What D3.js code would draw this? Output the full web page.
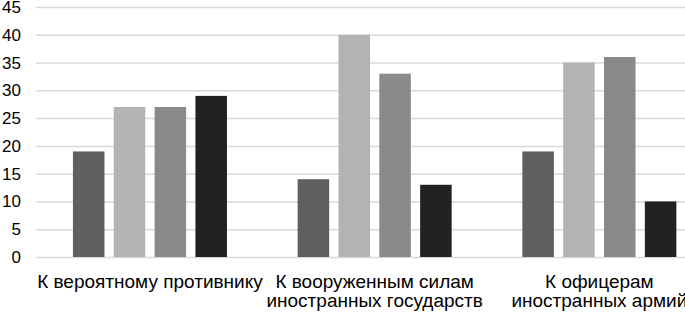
<!DOCTYPE html>
<html><head><meta charset="utf-8">
<script src="https://cdn.jsdelivr.net/npm/d3@7"></script>
<style>html,body{margin:0;padding:0;background:#fff;overflow:hidden}svg{display:block}</style>
</head><body>
<svg id="c" width="685" height="312"></svg>
<script>
const categories = ["К вероятному противнику", "К вооруженным силам иностранных государств", "К офицерам иностранных армий"];
const categoryLines = [["К вероятному противнику"], ["К вооруженным силам", "иностранных государств"], ["К офицерам", "иностранных армий"]];
const seriesNames = ["Серия 1", "Серия 2", "Серия 3", "Серия 4"];
const series1 = [19, 14, 19];
const series2 = [27, 40, 35];
const series3 = [27, 33, 36];
const series4 = [29, 13, 10];
const yTicks = [0, 5, 10, 15, 20, 25, 30, 35, 40, 45];
const colors = ["#5f5f5f", "#b3b3b3", "#8a8a8a", "#222222"];

const seriesValues = [series1, series2, series3, series4];
const svg = d3.select("#c");
const font = "'Liberation Sans', Arial, sans-serif";

const y = d3.scaleLinear().domain([0, 45]).range([257, 7]);
const x0 = d3.scaleBand().domain(categories).range([37.6, 711.7]).padding(0);
const groupW = 154;
const x1 = d3.scaleBand().domain(seriesNames).range([0, groupW]).paddingInner(0.228).paddingOuter(0);

// gridlines + y labels
const yAxis = d3.axisLeft(y).tickValues(yTicks).tickSize(-(700 - 36)).tickFormat(d3.format("d"));
const gy = svg.append("g").attr("transform", "translate(36,0)").call(yAxis);
gy.select(".domain").remove();
gy.selectAll(".tick line").attr("stroke", "#d9d9d9").attr("stroke-width", 1.5);
gy.selectAll(".tick text").attr("x", -15).attr("font-family", font).attr("font-size", 17).attr("fill", "#000");

// bars
const groups = svg.append("g").selectAll("g").data(categories).join("g")
  .attr("transform", d => `translate(${x0(d) + x0.bandwidth() / 2 - groupW / 2},0)`);
groups.selectAll("rect").data((d, i) => seriesNames.map((s, j) => ({ s, j, v: seriesValues[j][i] })))
  .join("rect")
  .attr("x", d => x1(d.s))
  .attr("width", x1.bandwidth())
  .attr("y", d => y(d.v))
  .attr("height", d => y(0) - y(d.v))
  .attr("fill", d => colors[d.j]);

// category labels
categories.forEach((c, i) => {
  const cx = x0(c) + x0.bandwidth() / 2;
  const t = svg.append("text").attr("text-anchor", "middle").attr("font-family", font)
    .attr("font-size", 19).attr("fill", "#000");
  categoryLines[i].forEach((ln, k) => {
    t.append("tspan").attr("x", cx).attr("y", 288 + k * 19).text(ln);
  });
});
</script>
</body></html>
